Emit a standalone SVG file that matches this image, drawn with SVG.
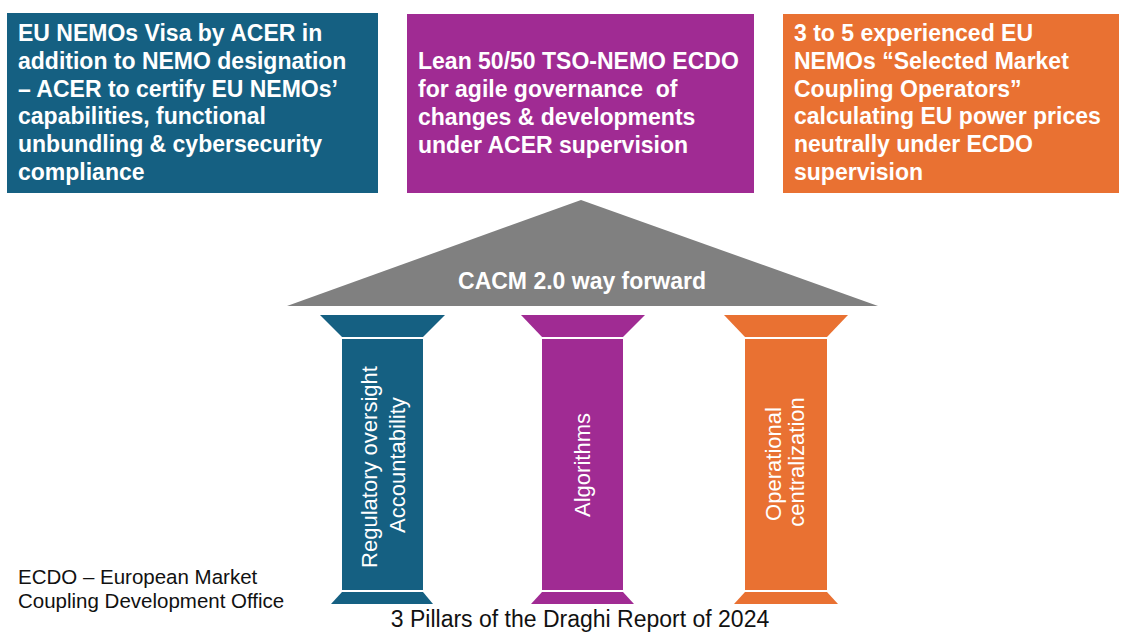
<svg xmlns="http://www.w3.org/2000/svg" width="1123" height="632" viewBox="0 0 1123 632">
<style>
.box{font-family:"Liberation Sans",Arial,sans-serif;font-weight:bold;font-size:23px;fill:#ffffff}
.pil{font-family:"Liberation Sans",Arial,sans-serif;font-size:22px;fill:#ffffff;text-anchor:middle}
.note{font-family:"Liberation Sans",Arial,sans-serif;font-size:20.5px;fill:#111111}
.blue{fill:#156082}.purple{fill:#a02b93}.orange{fill:#e97132}
</style>
<rect width="1123" height="632" fill="#ffffff"/>
<g id="box-visa">
<rect class="blue" x="7" y="13" width="371" height="180"/>
<text class="box"><tspan x="18" y="41">EU NEMOs Visa by ACER in</tspan><tspan x="18" y="68.8">addition to NEMO designation</tspan><tspan x="18" y="96.6">– ACER to certify EU NEMOs’</tspan><tspan x="18" y="124.4">capabilities, functional</tspan><tspan x="18" y="152.2">unbundling &amp; cybersecurity</tspan><tspan x="18" y="180">compliance</tspan></text>
</g>
<g id="box-ecdo">
<rect class="purple" x="407" y="14" width="347" height="179"/>
<text class="box" style="white-space:pre"><tspan x="418" y="68.5">Lean 50/50 TSO-NEMO ECDO</tspan><tspan x="418" y="96.8">for agile governance  of</tspan><tspan x="418" y="125">changes &amp; developments</tspan><tspan x="418" y="153.4">under ACER supervision</tspan></text>
</g>
<g id="box-operators">
<rect class="orange" x="783" y="14" width="336" height="179"/>
<text class="box"><tspan x="794" y="41">3 to 5 experienced EU</tspan><tspan x="794" y="68.8">NEMOs “Selected Market</tspan><tspan x="794" y="96.6">Coupling Operators”</tspan><tspan x="794" y="124.4">calculating EU power prices</tspan><tspan x="794" y="152.2">neutrally under ECDO</tspan><tspan x="794" y="180">supervision</tspan></text>
</g>
<g id="roof">
<polygon points="581,200 878,306 287,306" fill="#808080"/>
<text x="582" y="289" text-anchor="middle" style="font-family:'Liberation Sans',Arial,sans-serif;font-weight:bold;font-size:23px;fill:#ffffff">CACM 2.0 way forward</text>
</g>
<g id="pillar-regulatory">
<polygon class="blue" points="320,315 445,315 423,337 342,337"/>
<rect class="blue" x="342" y="339" width="81" height="251"/>
<polygon class="blue" points="342,592 423,592 433,604 331,604"/>
<text class="pil" transform="rotate(-90)"><tspan x="-467" y="377">Regulatory oversight</tspan><tspan x="-465" y="405">Accountability</tspan></text>
</g>
<g id="pillar-algorithms">
<polygon class="purple" points="521,315 645,315 623,337 542,337"/>
<rect class="purple" x="542" y="339" width="81" height="251"/>
<polygon class="purple" points="542,592 623,592 634,604 531,604"/>
<text class="pil" transform="rotate(-90)" x="-465" y="590">Algorithms</text>
</g>
<g id="pillar-operational">
<polygon class="orange" points="724,315 848,315 827,337 745,337"/>
<rect class="orange" x="745" y="339" width="82" height="251"/>
<polygon class="orange" points="745,592 827,592 838,604 734,604"/>
<text class="pil" transform="rotate(-90)"><tspan x="-464" y="781">Operational</tspan><tspan x="-462" y="804">centralization</tspan></text>
</g>
<g id="footnote">
<text class="note"><tspan x="18" y="584">ECDO – European Market</tspan><tspan x="18" y="608">Coupling Development Office</tspan></text>
</g>
<g id="title">
<text x="580" y="626.5" text-anchor="middle" style="font-family:'Liberation Sans',Arial,sans-serif;font-size:23px;fill:#111111">3 Pillars of the Draghi Report of 2024</text>
</g>
<g id="connectors"/>
</svg>
